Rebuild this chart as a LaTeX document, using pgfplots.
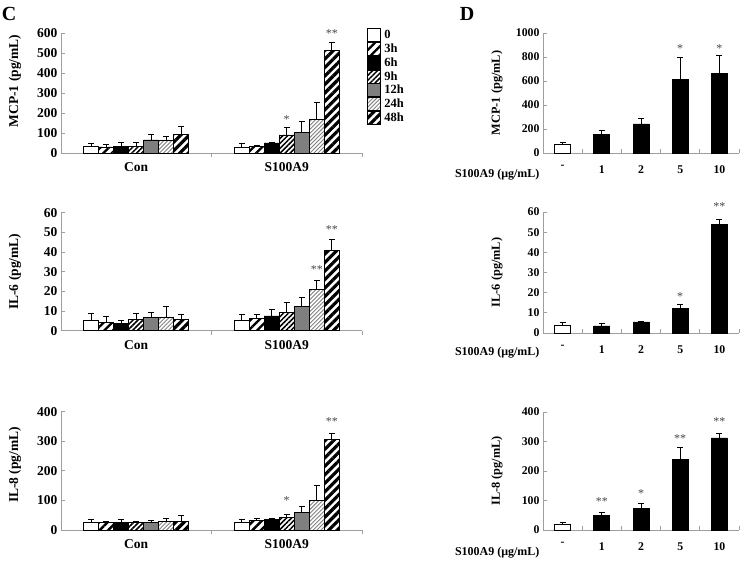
\documentclass[border=0pt]{standalone}
\usepackage{pgfplots}
\pgfplotsset{compat=1.18}
\usepackage{fontspec}
\setmainfont{Liberation Serif}
\usetikzlibrary{patterns.meta}

\tikzset{sg/.style={font=\fontsize{12}{12}\selectfont, text=gray!55!black, inner sep=0pt, anchor=center}}
\pgfplotsset{
  s0/.style={draw=black, line width=0.8pt, fill=white},
  s3/.style={draw=black, line width=0.8pt, fill=white, postaction={pattern={Lines[angle=45,distance=6pt,line width=2.4pt]}}},
  s6/.style={draw=black, line width=0.8pt, fill=black},
  s9/.style={draw=black, line width=0.8pt, fill=white, postaction={pattern={Lines[angle=45,distance=3.5pt,line width=1.5pt]}}},
  s12/.style={draw=black, line width=0.8pt, fill=gray!70, postaction={pattern={Dots[distance=2pt,radius=0.65pt]}}},
  s24/.style={draw=black, line width=0.8pt, fill=white, postaction={pattern={Lines[angle=45,distance=2.8pt,line width=0.9pt]}, pattern color=gray}},
  s48/.style={draw=black, line width=0.8pt, fill=white, postaction={pattern={Lines[angle=45,distance=6pt,line width=3.2pt]}}},
  base/.style={
    scale only axis, anchor=south west, clip=false,
    axis x line*=bottom, axis y line*=left,
    axis line style={draw=gray!75, line width=0.8pt},
    ymin=0,
    /pgf/number format/assume math mode=true,
    /pgf/number format/1000 sep={},
    ytick style={draw=gray!75, line width=0.8pt},
    major tick length=3.5pt,
    minor tick length=4pt,
    major x tick style={draw=none},
    minor x tick style={draw=gray!75, line width=0.8pt},
    every axis y label/.style={rotate=90, anchor=center},
    error bars/y dir=plus, error bars/y explicit,
    error bars/error bar style={black, line width=1pt},
    error bars/error mark options={rotate=90, black, mark size=3pt, line width=1pt},
  },
  Cax/.style={base, width=301pt, ybar=0pt, bar width=15pt,
    xmin=-0.5, xmax=1.5, xtick={0,1}, xticklabels={Con,S100A9},
    minor xtick={0.5,1.5}, xtick align=outside,
    tick label style={font=\fontsize{13.5}{15}\selectfont\bfseries},
    x tick label style={yshift=-2.5pt},
    ylabel style={at={(axis description cs:-0.153,0.5)}, font=\fontsize{13.5}{15}\selectfont\bfseries},
  },
  Dax/.style={base, width=196pt, ybar, bar width=16pt, bar shift=0pt,
    xmin=-0.5, xmax=4.5, xtick={0,1,2,3,4}, xticklabels={-,1,2,5,10},
    minor xtick={0.5,1.5,2.5,3.5,4.5}, xtick align=inside,
    tick label style={font=\fontsize{11.8}{13}\selectfont\bfseries},
    x tick label style={yshift=-9pt},
    ylabel style={at={(axis description cs:-0.235,0.5)}, font=\fontsize{12.3}{14}\selectfont\bfseries},
  },
}

\begin{document}
\begin{tikzpicture}
\path[use as bounding box] (0pt,0pt) rectangle (745pt,562pt);
\node[font=\fontsize{20}{20}\selectfont\bfseries] at (9pt,548pt) {C};
\node[font=\fontsize{20}{20}\selectfont\bfseries] at (467pt,548pt) {D};

% ---------------- C: MCP-1
\begin{axis}[Cax, at={(61pt,409pt)}, height=120pt, ymax=600, ytick={0,100,...,600},
  ylabel={MCP-1 (pg/mL)},
  ylabel style={at={(axis description cs:-0.153,0.6)}},
  legend style={at={(rel axis cs:1,1)}, anchor=north west, xshift=5pt, yshift=5pt,
    draw=none, fill=none, inner sep=0pt, row sep=0pt,
    font=\fontsize{12.5}{14}\selectfont\bfseries,
    nodes={inner sep=0.5pt}},
  legend cell align=left,
  legend image code/.code={\draw[#1] (0pt,-6.5pt) rectangle (13pt,6.5pt);},
  /tikz/every odd column/.append style={column sep=3pt},
]
\addplot[s0]  coordinates {(0,32) +- (0,16) (1,30) +- (0,18)};
\addplot[s3]  coordinates {(0,30) +- (0,12) (1,33) +- (0,5)};
\addplot[s6]  coordinates {(0,33) +- (0,20) (1,50) +- (0,3)};
\addplot[s9]  coordinates {(0,33) +- (0,20) (1,90) +- (0,38)};
\addplot[s12] coordinates {(0,65) +- (0,25) (1,102) +- (0,53)};
\addplot[s24] coordinates {(0,63) +- (0,19) (1,167) +- (0,83)};
\addplot[s48] coordinates {(0,93) +- (0,37) (1,512) +- (0,38)};
\legend{0,3h,6h,9h,12h,24h,48h}
\node[sg] at (axis cs:1,168) {*};
\node[sg, xshift=45pt] at (axis cs:1,596) {**};
\end{axis}

% ---------------- C: IL-6
\begin{axis}[Cax, at={(61pt,231.3pt)}, height=118pt, ymax=60, ytick={0,10,...,60},
  ylabel={IL-6 (pg/mL)}]
\addplot[s0]  coordinates {(0,5.4) +- (0,3.1) (1,5.1) +- (0,3.0)};
\addplot[s3]  coordinates {(0,4.4) +- (0,2.7) (1,6.1) +- (0,2.0)};
\addplot[s6]  coordinates {(0,3.6) +- (0,1.7) (1,7.5) +- (0,3.5)};
\addplot[s9]  coordinates {(0,5.8) +- (0,3.0) (1,9.2) +- (0,5.0)};
\addplot[s12] coordinates {(0,6.8) +- (0,2.7) (1,12.5) +- (0,4.3)};
\addplot[s24] coordinates {(0,7.0) +- (0,5.4) (1,21.0) +- (0,4.6)};
\addplot[s48] coordinates {(0,5.9) +- (0,2.2) (1,40.8) +- (0,5.8)};
\node[sg, xshift=30pt] at (axis cs:1,31.3) {**};
\node[sg, xshift=45pt] at (axis cs:1,51.6) {**};
\end{axis}

% ---------------- C: IL-8
\begin{axis}[Cax, at={(61pt,32pt)}, height=118.3pt, ymax=400, ytick={0,100,...,400},
  ylabel={IL-8 (pg/mL)}, ylabel style={at={(axis description cs:-0.153,0.55)}}]
\addplot[s0]  coordinates {(0,26) +- (0,10) (1,26) +- (0,11)};
\addplot[s3]  coordinates {(0,26) +- (0,3) (1,32) +- (0,6)};
\addplot[s6]  coordinates {(0,27) +- (0,9) (1,37) +- (0,2)};
\addplot[s9]  coordinates {(0,26) +- (0,2) (1,42) +- (0,9)};
\addplot[s12] coordinates {(0,26) +- (0,5) (1,58) +- (0,20)};
\addplot[s24] coordinates {(0,29) +- (0,9) (1,100) +- (0,50)};
\addplot[s48] coordinates {(0,30) +- (0,20) (1,307) +- (0,19)};
\node[sg] at (axis cs:1,101) {*};
\node[sg, xshift=45pt] at (axis cs:1,368) {**};
\end{axis}

% ---------------- D: MCP-1
\begin{axis}[Dax, at={(543pt,409pt)}, height=120pt, ymax=1000, ytick={0,200,...,1000},
  ylabel={MCP-1 (pg/mL)}]
\addplot[s0] coordinates {(0,72) +- (0,17)};
\addplot[s6] coordinates {(1,156) +- (0,33) (2,242) +- (0,44) (3,614) +- (0,178) (4,664) +- (0,150)};
\node[sg] at (axis cs:3,870) {*};
\node[sg] at (axis cs:4,870) {*};
\node[anchor=east, font=\fontsize{12}{14}\selectfont\bfseries] at ([yshift=-22pt]rel axis cs:0,0) {S100A9 (μg/mL)};
\end{axis}

% ---------------- D: IL-6
\begin{axis}[Dax, at={(543pt,229pt)}, height=121pt, ymax=60, ytick={0,10,...,60},
  ylabel={IL-6 (pg/mL)}]
\addplot[s0] coordinates {(0,4.0) +- (0,1.2)};
\addplot[s6] coordinates {(1,3.5) +- (0,1.0) (2,5.5) +- (0,0.3) (3,12.0) +- (0,2.0) (4,54.0) +- (0,2.3)};
\node[sg] at (axis cs:3,18.0) {*};
\node[sg] at (axis cs:4,62.5) {**};
\node[anchor=east, font=\fontsize{12}{14}\selectfont\bfseries] at ([yshift=-20pt]rel axis cs:0,0) {S100A9 (μg/mL)};
\end{axis}

% ---------------- D: IL-8
\begin{axis}[Dax, at={(543pt,32pt)}, height=118pt, ymax=400, ytick={0,100,...,400},
  ylabel={IL-8 (pg/mL)}]
\addplot[s0] coordinates {(0,19) +- (0,7)};
\addplot[s6] coordinates {(1,49) +- (0,11) (2,73) +- (0,17) (3,239) +- (0,40) (4,312) +- (0,14)};
\node[sg] at (axis cs:1,98) {**};
\node[sg] at (axis cs:2,122) {*};
\node[sg] at (axis cs:3,310) {**};
\node[sg] at (axis cs:4,367) {**};
\node[anchor=east, font=\fontsize{12}{14}\selectfont\bfseries] at ([yshift=-23pt]rel axis cs:0,0) {S100A9 (μg/mL)};
\end{axis}
\end{tikzpicture}
\end{document}
